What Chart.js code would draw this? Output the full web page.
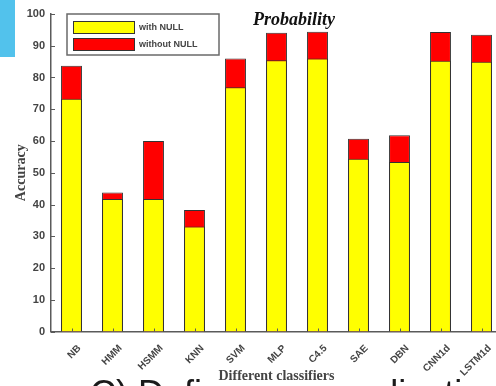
<!DOCTYPE html>
<html>
<head>
<meta charset="utf-8">
<script src="https://cdn.jsdelivr.net/npm/chart.js@4/dist/chart.umd.min.js"></script>
<style>
  html, body { margin: 0; padding: 0; background: #fff; overflow: hidden; }
  #wrap { position: relative; width: 496px; height: 386px; overflow: hidden; }
  canvas { position: absolute; left: 0; top: 0; }
</style>
</head>
<body>
<div id="wrap"><canvas id="chart" width="506" height="386"></canvas></div>
<script>
const classifiers = ['NB', 'HMM', 'HSMM', 'KNN', 'SVM', 'MLP', 'C4.5', 'SAE', 'DBN', 'CNN1d', 'LSTM1d'];
const withNull = [73.3, 41.7, 41.7, 33.1, 76.9, 85.4, 86.0, 54.4, 53.4, 85.3, 85.0];
const withoutNull = [83.7, 43.8, 60.0, 38.3, 86.0, 94.1, 94.4, 60.7, 61.8, 94.3, 93.5];
const yTicks = [0, 10, 20, 30, 40, 50, 60, 70, 80, 90, 100];

const axisColor = '#5a5a5a';
const textColor = '#444';

// page bits around the figure: blue tab, big caption behind, legend, title, inner ticks
const decorations = {
  id: 'decorations',
  beforeDraw(chart) {
    const ctx = chart.ctx;
    ctx.save();
    ctx.fillStyle = '#52c2ec';
    ctx.fillRect(0, 0, 15, 57);
    ctx.fillStyle = '#1a1a1a';
    ctx.font = '36px "Liberation Sans", Arial, sans-serif';
    ctx.textBaseline = 'alphabetic';
    ctx.fillText('C) Definition of realization', 90, 406);
    ctx.fillStyle = '#fff';
    ctx.fillRect(205, 364, 142, 22);
    ctx.restore();
  },
  afterDatasetsDraw(chart) {
    const ctx = chart.ctx;
    const x = chart.scales.x, y = chart.scales.y;
    ctx.save();
    ctx.strokeStyle = axisColor;
    ctx.lineWidth = 1;
    ctx.beginPath();
    y.ticks.forEach((t, i) => {
      const py = Math.round(y.getPixelForTick(i)) + 0.5;
      ctx.moveTo(x.left, py);
      ctx.lineTo(x.left + 4, py);
    });
    x.ticks.forEach((t, i) => {
      const px = Math.round(x.getPixelForTick(i)) + 0.5;
      ctx.moveTo(px, y.bottom);
      ctx.lineTo(px, y.bottom - 3);
    });
    ctx.stroke();

    // title
    ctx.fillStyle = '#111';
    ctx.font = 'italic bold 18px "Liberation Serif", "Times New Roman", serif';
    ctx.textAlign = 'center';
    ctx.textBaseline = 'alphabetic';
    ctx.fillText('Probability', 294, 25);

    // legend
    ctx.fillStyle = '#fff';
    ctx.fillRect(67, 14, 152, 41);
    ctx.strokeStyle = '#6a6a6a';
    ctx.lineWidth = 1.5;
    ctx.strokeRect(67, 14, 152, 41);
    ctx.textAlign = 'left';
    ctx.textBaseline = 'middle';
    ctx.font = 'bold 9px "Liberation Sans", Arial, sans-serif';
    chart.data.datasets.forEach((ds, i) => {
      const top = 21 + i * 17;
      ctx.fillStyle = ds.backgroundColor;
      ctx.fillRect(73, top, 62, 13);
      ctx.strokeStyle = '#333';
      ctx.lineWidth = 1;
      ctx.strokeRect(73.5, top + 0.5, 61, 12);
      ctx.fillStyle = '#444';
      ctx.fillText(ds.label, 139, top + 7);
    });
    ctx.restore();
  }
};

new Chart(document.getElementById('chart'), {
  type: 'bar',
  data: {
    labels: classifiers,
    datasets: [
      {
        label: 'with NULL',
        data: withNull,
        backgroundColor: '#ffff00',
        borderColor: '#333',
        borderWidth: 1,
        grouped: false,
        categoryPercentage: 1,
        barPercentage: 0.51
      },
      {
        label: 'without NULL',
        data: withoutNull,
        backgroundColor: '#ff0000',
        borderColor: '#333',
        borderWidth: 1,
        grouped: false,
        categoryPercentage: 1,
        barPercentage: 0.51
      }
    ]
  },
  options: {
    responsive: false,
    animation: false,
    layout: { padding: { left: 0, top: 14, right: 4, bottom: 0 } },
    plugins: {
      legend: { display: false },
      tooltip: { enabled: false }
    },
    scales: {
      x: {
        grid: { display: false, drawTicks: false },
        border: { display: true, color: axisColor, width: 1.5 },
        ticks: {
          autoSkip: false,
          maxRotation: 45,
          minRotation: 45,
          padding: 11,
          labelOffset: 8,
          color: textColor,
          font: { family: '"Liberation Sans", Arial, sans-serif', size: 10, weight: 'bold' }
        },
        title: {
          display: true,
          text: 'Different classifiers',
          color: textColor,
          padding: { top: 0, bottom: 1 },
          font: { family: '"Liberation Serif", "Times New Roman", serif', size: 14, weight: 'bold' }
        },
        afterFit(scale) { scale.height = 54.5; }
      },
      y: {
        min: 0,
        max: 100,
        afterBuildTicks(scale) { scale.ticks = yTicks.map(v => ({ value: v })); },
        grid: { display: false, drawTicks: false },
        border: { display: true, color: axisColor, width: 1.5 },
        ticks: {
          padding: 6,
          color: textColor,
          font: { family: '"Liberation Sans", Arial, sans-serif', size: 11, weight: 'bold' }
        },
        title: {
          display: true,
          text: 'Accuracy',
          color: textColor,
          padding: { top: 12.6, bottom: 0 },
          font: { family: '"Liberation Serif", "Times New Roman", serif', size: 14, weight: 'bold' }
        },
        afterFit(scale) { scale.width = 51; }
      }
    }
  },
  plugins: [decorations]
});
</script>
</body>
</html>
